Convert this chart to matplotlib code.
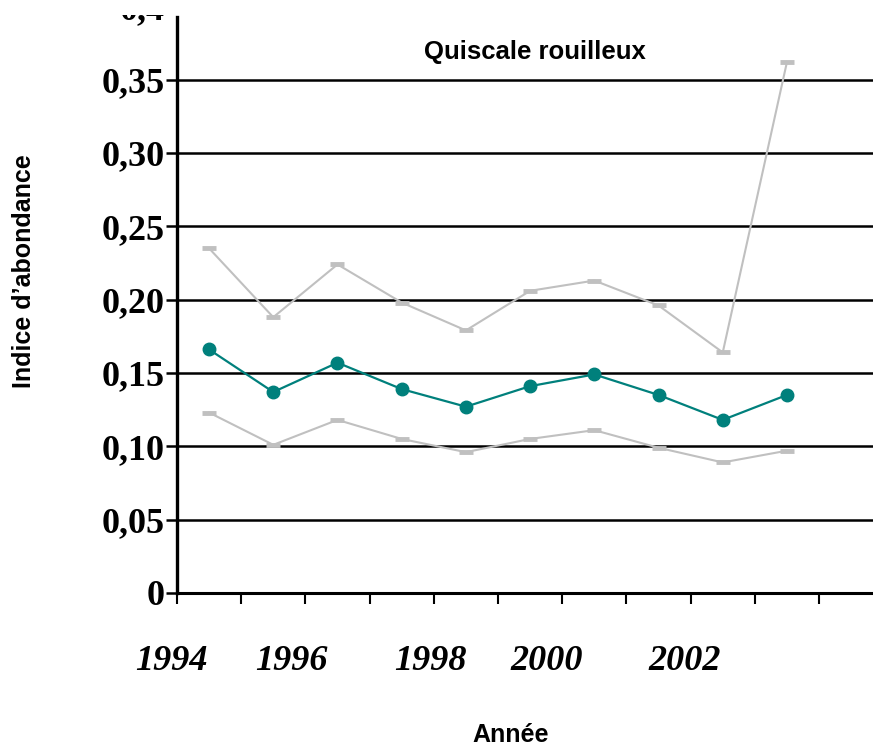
import matplotlib
matplotlib.use("Agg")
import matplotlib.pyplot as plt
import matplotlib.transforms as mtransforms
import numpy as np

# data
years = [1994, 1995, 1996, 1997, 1998, 1999, 2000, 2001, 2002, 2003]
upper = [0.235, 0.188, 0.224, 0.198, 0.179, 0.206, 0.213, 0.196, 0.164, 0.362]
mean = [0.166, 0.137, 0.157, 0.139, 0.127, 0.141, 0.149, 0.135, 0.118, 0.135]
lower = [0.123, 0.101, 0.118, 0.105, 0.096, 0.105, 0.111, 0.099, 0.089, 0.097]

ytick_vals = [0, 0.05, 0.10, 0.15, 0.20, 0.25, 0.30, 0.35, 0.40]
ytick_text = ["0", "0,05", "0,10", "0,15", "0,20", "0,25", "0,30", "0,35", "0,4"]
year_text = ["1994", "1996", "1998", "2000", "2002"]
year_pos = [-0.08, 1.79, 3.94, 5.76, 7.91]   # odd placement as in the original

title = "Quiscale rouilleux"
teal = "#00807c"
grey = "#c0c0c0"

fig = plt.figure(figsize=(8.73, 7.47), dpi=100)
ax = fig.add_axes([0.2027, 0.2062, 0.7973, 0.9916 - 0.2062])

x = np.array(years) - years[0] + 0.5

ax.plot(x, upper, color=grey, lw=1.5, marker="_", ms=10, mew=3.5, zorder=3)
ax.plot(x, lower, color=grey, lw=1.5, marker="_", ms=10, mew=3.5, zorder=3)
ax.plot(x, mean, color=teal, lw=1.6, marker="o", ms=9, zorder=4)

ax.set_xlim(0, 10.84)
ax.set_ylim(0, 0.4)

ax.set_yticks(ytick_vals)
ax.set_yticklabels(ytick_text, family="Liberation Serif", fontweight="bold", fontsize=26)
ax.yaxis.grid(True, color="black", lw=1.8, zorder=1)
ax.tick_params(axis="y", direction="out", length=8, width=1.8, pad=1)
ax.get_ygridlines()[-1].set_visible(False)
ax.yaxis.get_major_ticks()[-1].tick1line.set_visible(False)
# top label is cut by the plot frame in the original
top_lbl = ax.get_yticklabels()[-1]
top_lbl.set_clip_box(mtransforms.Bbox.from_extents(0, 0, 873, 747 - 15))
top_lbl.set_clip_on(True)

ax.set_xticks(np.arange(0, 11))
ax.set_xticklabels([])
ax.tick_params(axis="x", direction="out", length=8, width=1.5)

for s in ["top", "right"]:
    ax.spines[s].set_visible(False)
ax.spines["left"].set_linewidth(2.4)
ax.spines["left"].set_bounds(0, 0.393)
ax.spines["bottom"].set_linewidth(2.2)

trans = mtransforms.blended_transform_factory(ax.transData, ax.transAxes)
for t, p in zip(year_text, year_pos):
    ax.text(p, -0.116, t, transform=trans, ha="center", va="center",
            family="Liberation Serif", fontweight="bold", fontstyle="italic",
            fontsize=26)

fig.text(535 / 873, 1 - 52 / 747, title, ha="center", va="center",
         family="Liberation Sans", fontweight="bold", fontsize=18.5)
fig.text(24 / 873, 1 - 271 / 747, "Indice d\u2019abondance", rotation=90,
         ha="center", va="center", family="Liberation Sans", fontweight="bold",
         fontsize=18)
fig.text(511 / 873, 1 - 735 / 747, "Ann\u00e9e", ha="center", va="center",
         family="Liberation Sans", fontweight="bold", fontsize=18)

fig.savefig("out.png", dpi=100)
